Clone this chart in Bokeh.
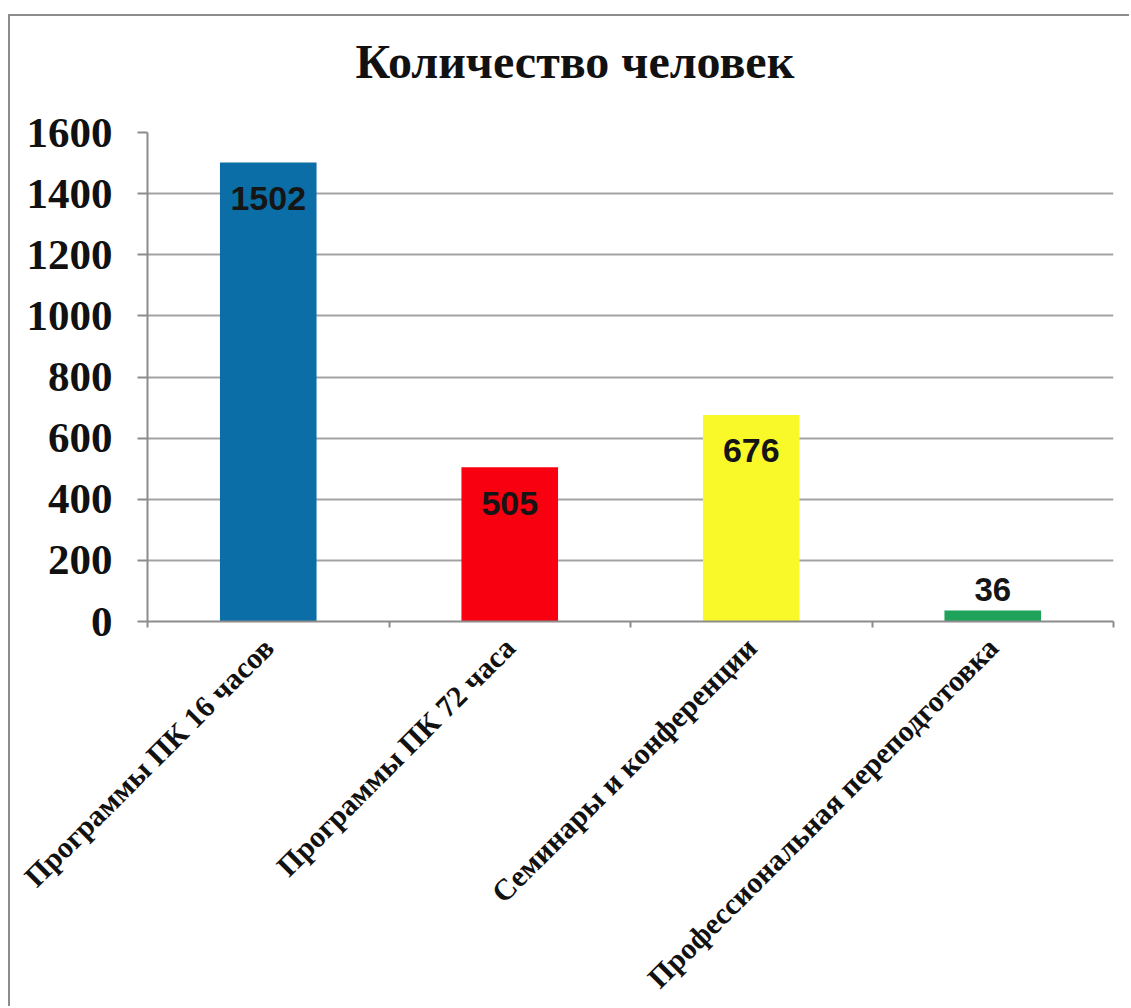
import math
from bokeh.plotting import figure
from bokeh.models import Range1d, FixedTicker, ColumnDataSource, Title
from bokeh.core.properties import value
from bokeh.embed import file_html
from bokeh.resources import INLINE

# ---- data ----
categories = [
    "Программы ПК 16 часов",
    "Программы ПК 72 часа",
    "Семинары и конференции",
    "Профессиональная переподготовка",
]
counts = [1502, 505, 676, 36]
bar_colors = ["#0B6EA6", "#F80010", "#F9F92A", "#1FA35B"]
y_ticks = [0, 200, 400, 600, 800, 1000, 1200, 1400, 1600]
title_text = "Количество человек"

SERIF = "Liberation Serif"
SANS = "Liberation Sans"

n = len(categories)
centers = [i + 0.5 for i in range(n)]
bounds = list(range(n + 1))

p = figure(
    width=1121, height=992,
    x_range=Range1d(0, n), y_range=Range1d(y_ticks[0], y_ticks[-1]),
    output_backend="svg", toolbar_location=None,
    min_border_left=137, min_border_right=18,
    min_border_top=116, min_border_bottom=387,
)
p.outline_line_color = None
p.background_fill_color = "white"
p.border_fill_color = "white"
p.styles = {
    "border-top": "2px solid #8C8C8C",
    "border-left": "2px solid #8C8C8C",
    "margin-top": "14px",
    "margin-left": "8px",
}

# spacer panel between the title and the plot frame
p.add_layout(Title(text=" ", text_font_size="1px", standoff=40), "above")

# title
p.title.text = title_text
p.title.text_font = SERIF
p.title.text_font_style = "bold"
p.title.text_font_size = "48px"
p.title.text_color = "#111111"
p.title.align = "left"
p.title.offset = 208
p.title.vertical_align = "top"
p.title.standoff = 0

# bars
src = ColumnDataSource(dict(x=centers, top=counts, color=bar_colors))
p.vbar(x="x", top="top", bottom=0, width=0.4, fill_color="color",
       line_color=None, source=src)

# value labels
inside = [(c, v) for c, v in zip(centers, counts) if v >= 200]
outside = [(c, v) for c, v in zip(centers, counts) if v < 200]
p.text(x=[c for c, _ in inside], y=[v for _, v in inside],
       text=[str(v) for _, v in inside], text_align="center",
       text_baseline="middle", y_offset=36,
       text_font=value(SANS), text_font_style="bold",
       text_font_size="34px", text_color="#151515")
p.text(x=[c for c, _ in outside], y=[v for _, v in outside],
       text=[str(v) for _, v in outside], text_align="center",
       text_baseline="bottom", y_offset=-9,
       text_font=value(SANS), text_font_style="bold",
       text_font_size="33px", text_color="#151515")

# y axis
ya = p.yaxis[0]
ya.ticker = FixedTicker(ticks=y_ticks)
ya.axis_line_color = "#8C8C8C"
ya.axis_line_width = 2
ya.major_tick_line_color = "#8C8C8C"
ya.major_tick_line_width = 2
ya.major_tick_out = 10
ya.major_tick_in = 0
ya.minor_tick_line_color = None
ya.major_label_text_font = SERIF
ya.major_label_text_font_style = "bold"
ya.major_label_text_font_size = "43px"
ya.major_label_text_color = "#111111"
ya.major_label_standoff = 25

# x axis: labels at centres, ticks at boundaries
xa = p.xaxis[0]
xa.ticker = FixedTicker(ticks=centers, minor_ticks=bounds)
xa.major_label_overrides = {c: lab for c, lab in zip(centers, categories)}
xa.axis_line_color = "#8C8C8C"
xa.axis_line_width = 2
xa.major_tick_line_color = None
xa.minor_tick_line_color = "#8C8C8C"
xa.minor_tick_line_width = 2
xa.minor_tick_out = 6
xa.minor_tick_in = 0
xa.major_label_orientation = math.pi / 4
xa.major_label_text_font = SERIF
xa.major_label_text_font_style = "bold"
xa.major_label_text_font_size = "30px"
xa.major_label_text_color = "#111111"
xa.major_label_standoff = 15

# grid
p.xgrid.grid_line_color = None
p.ygrid.ticker = FixedTicker(ticks=y_ticks)
p.ygrid.grid_line_color = "#A3A3A3"
p.ygrid.grid_line_width = 2

open("out.html", "w").write(file_html(p, INLINE))
